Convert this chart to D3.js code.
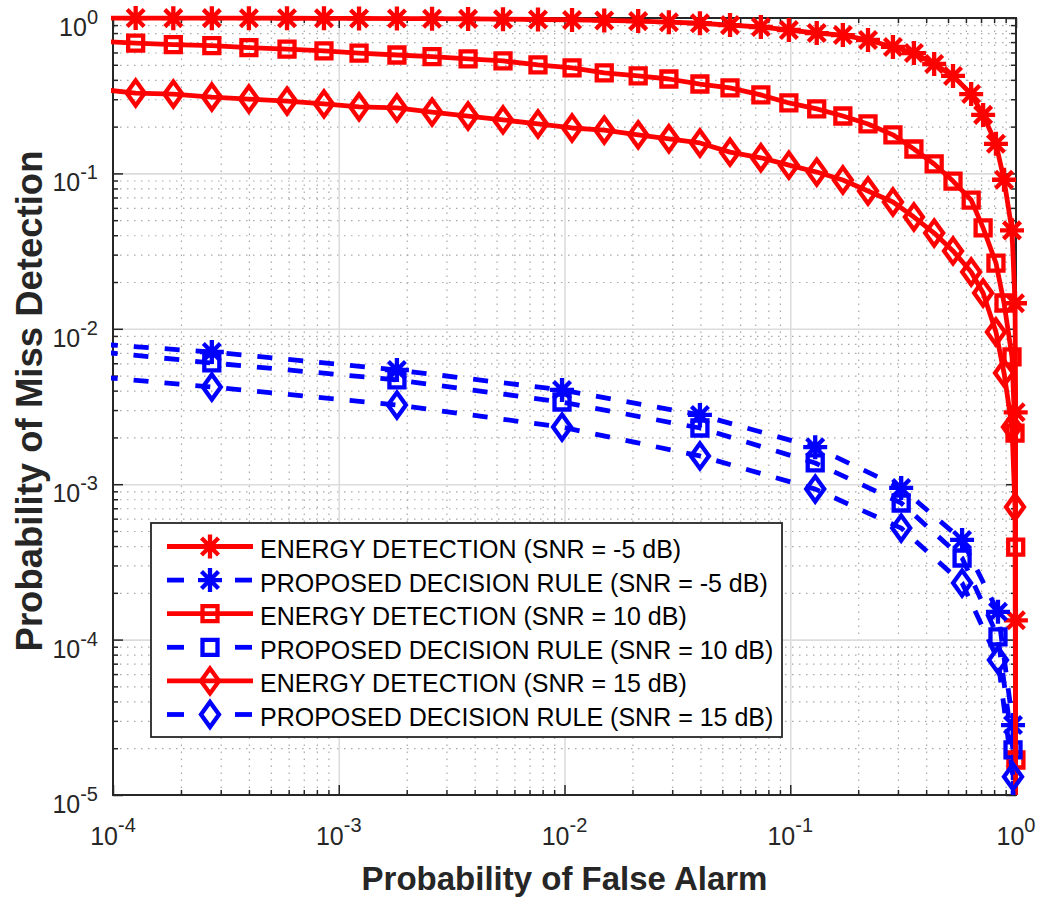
<!DOCTYPE html>
<html>
<head>
<meta charset="utf-8">
<script src="https://cdn.jsdelivr.net/npm/d3@7"></script>
<style>
  body { margin: 0; background: #fff; }
  text { font-family: "Liberation Sans", Arial, Helvetica, sans-serif; fill: #262626; }
</style>
</head>
<body>
<div id="chart"></div>
<script>
// ---- data ----
// energy detection curves share the threshold sweep (Pfa values)
const edPfa = [8.5e-5, 1.26e-4, 1.85e-4, 2.74e-4, 4.0e-4, 5.9e-4, 8.6e-4, 1.23e-3, 1.81e-3, 2.59e-3,
  3.74e-3, 5.34e-3, 7.63e-3, 1.08e-2, 1.50e-2, 2.12e-2, 2.90e-2, 3.98e-2, 5.41e-2, 7.41e-2,
  9.86e-2, 0.131, 0.171, 0.221, 0.285, 0.353, 0.434, 0.526, 0.633, 0.715,
  0.815, 0.885, 0.96, 0.99, 0.997, 0.999, 0.9998, 1.0];
const edM5 = [0.999, 0.999, 0.998, 0.998, 0.997, 0.996, 0.995, 0.994, 0.992, 0.99,
  0.987, 0.983, 0.978, 0.972, 0.965, 0.955, 0.94, 0.925, 0.90, 0.875,
  0.837, 0.80, 0.777, 0.722, 0.651, 0.595, 0.506, 0.424, 0.324, 0.238,
  0.155, 0.091, 0.043, 0.0146, 0.0029, 1.33e-4, 5e-7, 1e-8];
const ed10 = [0.71, 0.69, 0.675, 0.665, 0.645, 0.63, 0.615, 0.595, 0.578, 0.565,
  0.545, 0.529, 0.499, 0.477, 0.443, 0.424, 0.405, 0.376, 0.355, 0.320,
  0.284, 0.260, 0.234, 0.208, 0.177, 0.1436, 0.115, 0.0893, 0.0674, 0.0446,
  0.0265, 0.01466, 0.00659, 0.00213, 3.94e-4, 1.68e-5, 2e-7, 1e-9];
const ed15 = [0.349, 0.329, 0.324, 0.310, 0.301, 0.292, 0.280, 0.268, 0.264, 0.248,
  0.234, 0.221, 0.208, 0.196, 0.190, 0.177, 0.167, 0.157, 0.137, 0.126,
  0.113, 0.102, 0.0907, 0.0771, 0.0655, 0.0524, 0.0413, 0.0317, 0.0232, 0.0170,
  0.00953, 0.0052, 0.00233, 7.13e-4, 6e-6, 1e-7, 1e-9, 1e-10];

// proposed decision rule curves
const pdPfa = [3.5e-5, 2.74e-4, 1.81e-3, 9.75e-3, 0.0398, 0.129, 0.31, 0.577, 0.832, 0.970, 1.0];
const pdM5 = [0.00873, 0.00709, 0.00543, 0.00404, 0.00279, 0.00173, 9.46e-4, 4.38e-4, 1.51e-4, 2.82e-5, 1e-8];
const pd10 = [0.0081, 0.00603, 0.00469, 0.00338, 0.0023, 0.00137, 7.57e-4, 3.35e-4, 1.04e-4, 1.95e-5, 1e-8];
const pd15 = [0.00551, 0.00422, 0.00323, 0.00233, 0.00152, 9.3e-4, 5.22e-4, 2.31e-4, 7.4e-5, 1.31e-5, 1e-9];

const xTicks = [1e-4, 1e-3, 1e-2, 1e-1, 1];
const yTicks = [1e-5, 1e-4, 1e-3, 1e-2, 1e-1, 1];
const xExp = ["-4", "-3", "-2", "-1", "0"];
const yExp = ["-5", "-4", "-3", "-2", "-1", "0"];
const legendLabels = [
  "ENERGY DETECTION (SNR = -5 dB)",
  "PROPOSED DECISION RULE (SNR = -5 dB)",
  "ENERGY DETECTION (SNR = 10 dB)",
  "PROPOSED DECISION RULE (SNR = 10 dB)",
  "ENERGY DETECTION (SNR = 15 dB)",
  "PROPOSED DECISION RULE (SNR = 15 dB)"
];

// ---- layout ----
const W = 1040, H = 899;
const margin = {top: 18, right: 24, bottom: 104, left: 113};
const width = W - margin.left - margin.right;
const height = H - margin.top - margin.bottom;
const axisColor = "#262626";
const RED = "#ff0000", BLUE = "#0000ff";
const DASH = "15,16";

const root = d3.select("#chart").append("svg")
  .attr("width", W).attr("height", H);
const svg = root.append("g")
  .attr("transform", "translate(" + margin.left + "," + margin.top + ")");

const x = d3.scaleLog().domain([1e-4, 1]).range([0, width]);
const y = d3.scaleLog().domain([1e-5, 1]).range([height, 0]);

const minorX = [], minorY = [];
xTicks.slice(0, -1).forEach(d => { for (let k = 2; k < 10; k++) minorX.push(d * k); });
yTicks.slice(0, -1).forEach(d => { for (let k = 2; k < 10; k++) minorY.push(d * k); });

// ---- grid ----
function styleGrid(g, major) {
  g.select(".domain").remove();
  g.selectAll("line")
    .attr("stroke", major ? "#dcdcdc" : "#a8a8a8")
    .attr("stroke-width", major ? 1.6 : 1.2)
    .attr("stroke-dasharray", major ? null : "1.5,5.5");
}
svg.append("g").attr("transform", `translate(0,${height})`)
  .call(d3.axisBottom(x).tickValues(minorX).tickSize(-height).tickFormat(""))
  .call(g => styleGrid(g, false));
svg.append("g")
  .call(d3.axisLeft(y).tickValues(minorY).tickSize(-width).tickFormat(""))
  .call(g => styleGrid(g, false));
svg.append("g").attr("transform", `translate(0,${height})`)
  .call(d3.axisBottom(x).tickValues(xTicks.slice(1, -1)).tickSize(-height).tickFormat(""))
  .call(g => styleGrid(g, true));
svg.append("g")
  .call(d3.axisLeft(y).tickValues(yTicks.slice(1, -1)).tickSize(-width).tickFormat(""))
  .call(g => styleGrid(g, true));

// ---- axes (ticks inside, box on) ----
function styleAxis(g) {
  g.select(".domain").remove();
  g.selectAll("line").attr("stroke", axisColor).attr("stroke-width", 1.5);
}
const axes = [
  [d3.axisBottom, `translate(0,${height})`, x, xTicks, minorX],
  [d3.axisTop, "translate(0,0)", x, xTicks, minorX],
  [d3.axisLeft, "translate(0,0)", y, yTicks, minorY],
  [d3.axisRight, `translate(${width},0)`, y, yTicks, minorY]
];
axes.forEach(([fn, tr, sc, maj, min]) => {
  svg.append("g").attr("transform", tr)
    .call(fn(sc).tickValues(maj).tickSize(-10).tickFormat("")).call(styleAxis);
  svg.append("g").attr("transform", tr)
    .call(fn(sc).tickValues(min).tickSize(-5).tickFormat("")).call(styleAxis);
});
svg.append("rect")
  .attr("width", width).attr("height", height)
  .attr("fill", "none").attr("stroke", axisColor).attr("stroke-width", 2);

// tick labels 10^n
const xl = svg.append("g").selectAll("text").data(xTicks).enter().append("text")
  .attr("x", d => x(d)).attr("y", height + 50)
  .attr("text-anchor", "middle").style("font-size", "25px");
xl.append("tspan").text("10");
xl.append("tspan").attr("dy", -13).style("font-size", "20px").text((d, i) => xExp[i]);

const yl = svg.append("g").selectAll("text").data(yTicks).enter().append("text")
  .attr("x", -15).attr("y", d => y(d) + 18)
  .attr("text-anchor", "end").style("font-size", "25px");
yl.append("tspan").text("10");
yl.append("tspan").attr("dy", -12).style("font-size", "20px").text((d, i) => yExp[i]);

// axis titles
svg.append("text")
  .attr("x", width / 2).attr("y", height + 95)
  .attr("text-anchor", "middle")
  .style("font-size", "33px").style("font-weight", "bold")
  .text("Probability of False Alarm");
svg.append("text")
  .attr("transform", `translate(${42 - margin.left},${401 - margin.top}) rotate(-90)`)
  .attr("text-anchor", "middle")
  .style("font-size", "36.5px").style("font-weight", "bold")
  .text("Probability of Miss Detection");

// ---- series ----
const series = [
  {xs: edPfa, ys: edM5, color: RED, dash: null, marker: "star"},
  {xs: pdPfa, ys: pdM5, color: BLUE, dash: DASH, marker: "star"},
  {xs: edPfa, ys: ed10, color: RED, dash: null, marker: "square"},
  {xs: pdPfa, ys: pd10, color: BLUE, dash: DASH, marker: "square"},
  {xs: edPfa, ys: ed15, color: RED, dash: null, marker: "diamond"},
  {xs: pdPfa, ys: pd15, color: BLUE, dash: DASH, marker: "diamond"}
];

const markerPath = {
  star: "M0,-12L0,12M-12,0L12,0M-8.5,-8.5L8.5,8.5M-8.5,8.5L8.5,-8.5",
  square: "M-7.5,-7.5L7.5,-7.5L7.5,7.5L-7.5,7.5Z",
  diamond: "M0,-12.5L9,0L0,12.5L-9,0Z"
};

svg.append("clipPath").attr("id", "plotClip")
  .append("rect").attr("x", -2).attr("y", -3).attr("width", width + 4).attr("height", height + 3);

const line = d3.line().x(d => x(d[0])).y(d => y(d[1]));

series.forEach(s => {
  const pts = s.xs.map((v, i) => [v, s.ys[i]]);
  svg.append("path")
    .datum(pts)
    .attr("clip-path", "url(#plotClip)")
    .attr("d", line)
    .attr("fill", "none")
    .attr("stroke", s.color)
    .attr("stroke-width", 4.8)
    .attr("stroke-dasharray", s.dash)
    .attr("stroke-linejoin", "round");
  const vis = pts.filter(p => p[0] >= 1e-4 && p[0] <= 1 && p[1] >= 1e-5 && p[1] <= 1);
  svg.append("g").selectAll("path").data(vis).enter().append("path")
    .attr("transform", d => `translate(${x(d[0])},${y(d[1])})`)
    .attr("d", markerPath[s.marker])
    .attr("fill", "none")
    .attr("stroke", s.color)
    .attr("stroke-width", 4.3);
});

// ---- legend ----
const lg = root.append("g");
lg.append("rect")
  .attr("x", 151).attr("y", 523).attr("width", 631).attr("height", 214)
  .attr("fill", "#fff").attr("stroke", axisColor).attr("stroke-width", 1.8);
series.forEach((s, i) => {
  const cy = 546.5 + i * 33.6;
  const row = lg.append("g");
  if (s.dash) {
    row.append("line").attr("x1", 167).attr("x2", 184).attr("y1", cy).attr("y2", cy)
      .attr("stroke", s.color).attr("stroke-width", 4.8);
    row.append("line").attr("x1", 235).attr("x2", 252).attr("y1", cy).attr("y2", cy)
      .attr("stroke", s.color).attr("stroke-width", 4.8);
  } else {
    row.append("line").attr("x1", 167).attr("x2", 253).attr("y1", cy).attr("y2", cy)
      .attr("stroke", s.color).attr("stroke-width", 4.8);
  }
  row.append("path")
    .attr("transform", `translate(210,${cy})`)
    .attr("d", markerPath[s.marker])
    .attr("fill", "none").attr("stroke", s.color).attr("stroke-width", 4.3);
  row.append("text")
    .attr("x", 260).attr("y", cy + 11.5)
    .style("font-size", "25px")
    .style("fill", "#000")
    .text(legendLabels[i]);
});
</script>
</body>
</html>
